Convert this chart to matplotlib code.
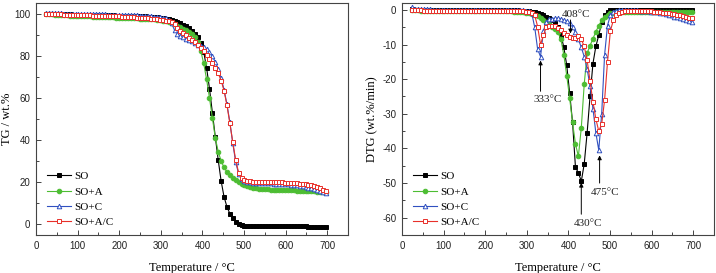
import matplotlib
matplotlib.use("Agg")
import matplotlib.pyplot as plt
import numpy as np

# temperature grid (°C), one point every 7 degrees
temp = np.arange(25, 698, 7)

labels = ["SO", "SO+A", "SO+C", "SO+A/C"]

tg_so = [
    100.0, 100.0, 100.0, 99.9, 99.9, 99.9, 99.8, 99.8, 99.8, 99.7,
    99.7, 99.7, 99.6, 99.6, 99.6, 99.5, 99.5, 99.5, 99.4, 99.4,
    99.4, 99.3, 99.3, 99.3, 99.2, 99.2, 99.2, 99.1, 99.1, 99.1,
    99.0, 99.0, 98.9, 98.9, 98.8, 98.7, 98.7, 98.6, 98.5, 98.3,
    98.1, 97.8, 97.5, 97.1, 96.7, 96.2, 95.6, 94.9, 94.1, 93.1,
    92.0, 90.6, 88.8, 86.2, 82.0, 74.5, 64.5, 53.0, 41.5, 30.5,
    20.5, 13.0, 8.2, 5.0, 2.7, 1.2, 0.2, -0.4, -0.7, -0.9,
    -1.0, -1.0, -1.0, -1.0, -1.0, -1.0, -1.0, -1.0, -1.0, -1.0,
    -1.1, -1.1, -1.1, -1.1, -1.1, -1.1, -1.1, -1.1, -1.1, -1.1,
    -1.2, -1.2, -1.2, -1.2, -1.2, -1.2, -1.2]
tg_so_a = [
    100.0, 99.9, 99.8, 99.7, 99.6, 99.5, 99.4, 99.3, 99.2, 99.1,
    99.0, 99.0, 98.9, 98.9, 98.8, 98.8, 98.7, 98.7, 98.6, 98.6,
    98.5, 98.5, 98.4, 98.4, 98.3, 98.3, 98.2, 98.2, 98.1, 98.0,
    98.0, 97.9, 97.8, 97.8, 97.7, 97.6, 97.5, 97.4, 97.2, 97.0,
    96.8, 96.5, 96.1, 95.6, 95.0, 94.4, 93.7, 93.0, 92.3, 91.4,
    90.4, 89.0, 86.5, 82.5, 76.5, 69.0, 60.0, 50.5, 41.0, 34.5,
    30.0, 27.0, 24.8, 23.2, 21.9, 20.8, 19.8, 19.0, 18.4, 17.9,
    17.5, 17.2, 17.0, 16.8, 16.7, 16.6, 16.5, 16.4, 16.3, 16.3,
    16.2, 16.2, 16.1, 16.1, 16.0, 16.0, 15.9, 15.9, 15.8, 15.8,
    15.7, 15.6, 15.6, 15.5, 15.4, 15.3, 15.2]
tg_so_c = [
    100.4, 100.4, 100.4, 100.3, 100.3, 100.3, 100.2, 100.2, 100.2, 100.1,
    100.1, 100.1, 100.0, 100.0, 100.0, 99.9, 99.9, 99.9, 99.8, 99.8,
    99.8, 99.7, 99.7, 99.7, 99.6, 99.6, 99.5, 99.5, 99.4, 99.4,
    99.3, 99.3, 99.2, 99.1, 99.0, 98.9, 98.8, 98.7, 98.6, 98.4,
    98.2, 97.9, 97.3, 95.5, 92.3, 90.6, 89.4, 88.8, 88.2, 87.6,
    87.0, 86.2, 85.4, 84.8, 84.2, 83.2, 81.7, 79.8, 77.2, 73.8,
    69.5, 64.0, 57.0, 48.5, 38.5, 29.5, 24.0, 21.5, 20.5, 20.0,
    19.8, 19.7, 19.6, 19.6, 19.5, 19.5, 19.4, 19.4, 19.3, 19.3,
    19.2, 19.1, 19.0, 18.9, 18.8, 18.6, 18.4, 18.2, 18.0, 17.7,
    17.4, 17.0, 16.6, 16.2, 15.8, 15.3, 14.9]
tg_so_ac = [
    100.0, 100.0, 99.9, 99.9, 99.8, 99.8, 99.7, 99.7, 99.6, 99.6,
    99.5, 99.5, 99.4, 99.4, 99.3, 99.3, 99.2, 99.2, 99.1, 99.1,
    99.0, 99.0, 98.9, 98.9, 98.8, 98.8, 98.7, 98.7, 98.6, 98.5,
    98.4, 98.3, 98.2, 98.1, 98.0, 97.9, 97.8, 97.6, 97.4, 97.2,
    97.0, 96.8, 96.6, 96.2, 95.2, 93.5, 92.0, 90.9, 89.8, 88.7,
    87.6, 86.5, 85.4, 84.0, 82.3, 80.5, 78.6, 76.6, 74.4, 71.7,
    68.3, 63.5, 56.5, 48.0, 39.0, 30.5, 24.5, 22.0, 21.0, 20.5,
    20.3, 20.2, 20.1, 20.1, 20.0, 20.0, 20.0, 19.9, 19.9, 19.9,
    19.8, 19.8, 19.7, 19.7, 19.6, 19.5, 19.4, 19.3, 19.1, 18.9,
    18.7, 18.4, 18.0, 17.5, 17.0, 16.4, 15.8]

dtg_so = [
    0.2, 0.1, 0.1, 0.1, 0.1, 0.1, 0.0, 0.0, 0.0, 0.0,
    0.0, 0.0, 0.0, 0.0, 0.0, 0.0, 0.0, 0.0, 0.0, 0.0,
    0.0, 0.0, 0.0, 0.0, 0.0, 0.0, 0.0, 0.0, 0.0, 0.0,
    0.0, 0.0, 0.0, 0.0, -0.1, -0.1, -0.1, -0.2, -0.2, -0.3,
    -0.4, -0.5, -0.7, -0.9, -1.2, -1.5, -1.9, -2.4, -3.0, -3.8,
    -5.0, -7.2, -10.8, -16.0, -24.0, -32.5, -45.5, -47.0, -49.5, -44.5,
    -35.5, -25.0, -15.5, -10.5, -7.3, -3.6, -1.5, -0.5, -0.1, 0.0,
    0.0, 0.0, 0.0, 0.0, 0.0, 0.0, 0.0, 0.0, 0.0, 0.0,
    0.0, 0.0, 0.0, 0.0, 0.0, 0.0, 0.0, 0.0, 0.0, 0.0,
    0.0, 0.0, 0.0, 0.0, 0.0, 0.0, 0.0]
dtg_so_a = [
    0.0, -0.1, -0.1, -0.2, -0.2, -0.2, -0.2, -0.2, -0.2, -0.2,
    -0.2, -0.2, -0.2, -0.2, -0.2, -0.2, -0.2, -0.2, -0.2, -0.2,
    -0.2, -0.2, -0.2, -0.2, -0.3, -0.3, -0.3, -0.3, -0.3, -0.3,
    -0.3, -0.3, -0.4, -0.4, -0.4, -0.5, -0.5, -0.6, -0.7, -0.8,
    -0.9, -1.1, -1.4, -1.8, -2.3, -2.9, -3.5, -4.2, -4.8, -5.5,
    -6.5, -8.5, -13.0, -19.0, -25.5, -32.5, -38.7, -42.3, -34.0, -21.5,
    -12.5, -10.3, -8.3, -6.3, -4.5, -3.0, -2.0, -1.4, -1.0, -0.8,
    -0.7, -0.6, -0.6, -0.6, -0.5, -0.5, -0.5, -0.5, -0.5, -0.5,
    -0.5, -0.5, -0.5, -0.5, -0.5, -0.5, -0.5, -0.5, -0.5, -0.5,
    -0.5, -0.5, -0.5, -0.5, -0.5, -0.5, -0.5]
dtg_so_c = [
    0.8, 0.4, 0.3, 0.2, 0.2, 0.2, 0.2, 0.1, 0.1, 0.1,
    0.1, 0.1, 0.1, 0.1, 0.1, 0.1, 0.1, 0.1, 0.1, 0.1,
    0.1, 0.1, 0.1, 0.1, 0.0, 0.0, 0.0, 0.0, 0.0, 0.0,
    0.0, 0.0, 0.0, 0.0, 0.0, 0.0, 0.0, 0.0, -0.1, -0.2,
    -0.4, -1.0, -5.0, -11.3, -13.5, -6.0, -3.4, -2.7, -2.5, -2.4,
    -2.4, -2.6, -2.9, -3.3, -3.9, -4.9, -6.5, -8.5, -10.8, -13.5,
    -17.0, -22.0, -28.5, -35.5, -40.5, -30.0, -13.0, -4.5, -1.5, -0.5,
    -0.2, 0.0, 0.0, 0.0, 0.0, 0.0, -0.1, -0.1, -0.2, -0.2,
    -0.3, -0.4, -0.5, -0.6, -0.7, -0.9, -1.0, -1.2, -1.4, -1.6,
    -1.9, -2.1, -2.4, -2.6, -2.9, -3.2, -3.5]
dtg_so_ac = [
    0.0, -0.1, -0.1, -0.1, -0.2, -0.2, -0.2, -0.2, -0.2, -0.2,
    -0.2, -0.2, -0.2, -0.2, -0.2, -0.2, -0.2, -0.2, -0.2, -0.2,
    -0.2, -0.2, -0.2, -0.2, -0.2, -0.2, -0.2, -0.2, -0.2, -0.2,
    -0.2, -0.2, -0.2, -0.2, -0.2, -0.2, -0.3, -0.3, -0.4, -0.5,
    -0.6, -0.9, -1.5, -4.8, -10.0, -7.3, -5.0, -4.6, -4.5, -4.7,
    -5.2, -5.9, -6.6, -7.3, -7.9, -8.2, -8.0, -7.6, -8.5, -10.5,
    -14.5, -20.5, -26.5, -31.5, -35.0, -33.0, -26.0, -15.0, -6.0, -3.0,
    -1.6, -0.9, -0.5, -0.3, -0.2, -0.2, -0.2, -0.2, -0.2, -0.3,
    -0.3, -0.4, -0.4, -0.5, -0.6, -0.7, -0.8, -0.9, -1.0, -1.1,
    -1.3, -1.4, -1.6, -1.8, -2.0, -2.2, -2.4]

# peak annotations: text, arrow x, arrow tip y, arrow tail y, text x, text y
peaks = [
    ("333°C", 333, -14.6, -23.5, 351, -26.0),
    ("408°C", 405, -6.8, -2.9, 418, -1.4),
    ("430°C", 431, -49.9, -59.0, 447, -61.8),
    ("475°C", 475, -42.0, -50.0, 488, -52.8),
]

styles = [
    dict(color="black", marker="s", mfc="black", mec="black"),
    dict(color="#4dbd33", marker="o", mfc="#4dbd33", mec="#4dbd33"),
    dict(color="#3050c0", marker="^", mfc="white", mec="#3050c0"),
    dict(color="#e8302a", marker="s", mfc="white", mec="#e8302a"),
]

serif = "Liberation Serif"
plt.rcParams["font.family"] = "Liberation Sans"
plt.rcParams["axes.unicode_minus"] = False
plt.rcParams["axes.edgecolor"] = "#444444"
plt.rcParams["xtick.color"] = "#444444"
plt.rcParams["ytick.color"] = "#444444"
plt.rcParams["xtick.labelcolor"] = "#222222"
plt.rcParams["ytick.labelcolor"] = "#222222"

fig = plt.figure(figsize=(7.16, 2.73), dpi=100)
ax1 = fig.add_axes([36 / 716, 38 / 273, 312 / 716, 232 / 273])
ax2 = fig.add_axes([402 / 716, 38 / 273, 312 / 716, 232 / 273])

for lab, st, y in zip(labels, styles, [tg_so, tg_so_a, tg_so_c, tg_so_ac]):
    ax1.plot(temp, y, lw=0.8, ms=3.3, mew=0.7, label=lab, **st)
for lab, st, y in zip(labels, styles, [dtg_so, dtg_so_a, dtg_so_c, dtg_so_ac]):
    ax2.plot(temp, y, lw=0.8, ms=3.3, mew=0.7, label=lab, **st)

ax1.set_xlim(0, 750)
ax1.set_ylim(-5.2, 105.2)
ax1.set_yticks([0, 20, 40, 60, 80, 100])
ax1.set_yticks(np.arange(10, 101, 20), minor=True)
ax1.set_ylabel("TG / wt.%", family=serif, fontsize=9, labelpad=1)

ax2.set_xlim(0, 748)
ax2.set_ylim(-64.7, 2.0)
ax2.set_yticks([-60, -50, -40, -30, -20, -10, 0])
ax2.set_yticks(np.arange(-65, 1, 5), minor=True)
ax2.set_ylabel("DTG (wt.%/min)", family=serif, fontsize=9, labelpad=3)

for ax in (ax1, ax2):
    ax.set_xticks(np.arange(0, 701, 100))
    ax.set_xticks(np.arange(50, 751, 100), minor=True)
    ax.tick_params(which="both", direction="in", labelsize=7, width=0.7)
    ax.tick_params(which="major", length=3.5, pad=4)
    ax.tick_params(which="minor", length=2)
    ax.set_xlabel("Temperature / °C", family=serif, fontsize=9, labelpad=8)
    for sp in ax.spines.values():
        sp.set_linewidth(0.8)
    ax.legend(loc="lower left", bbox_to_anchor=(0.01, 0.0), frameon=False,
              prop={"family": serif, "size": 8}, handlelength=2.2,
              handletextpad=0.3, labelspacing=0.5, borderaxespad=0.3)

for txt, ax_x, tip_y, tail_y, lx, ly in peaks:
    ax2.annotate("", xy=(ax_x, tip_y), xytext=(ax_x, tail_y),
                 arrowprops=dict(arrowstyle="-|>", color="black", lw=0.7,
                                 mutation_scale=6, shrinkA=0, shrinkB=0))
    ax2.text(lx, ly, txt, ha="center", va="center", family=serif,
             fontsize=8, color="#222222")

fig.savefig("out.png", dpi=100)
